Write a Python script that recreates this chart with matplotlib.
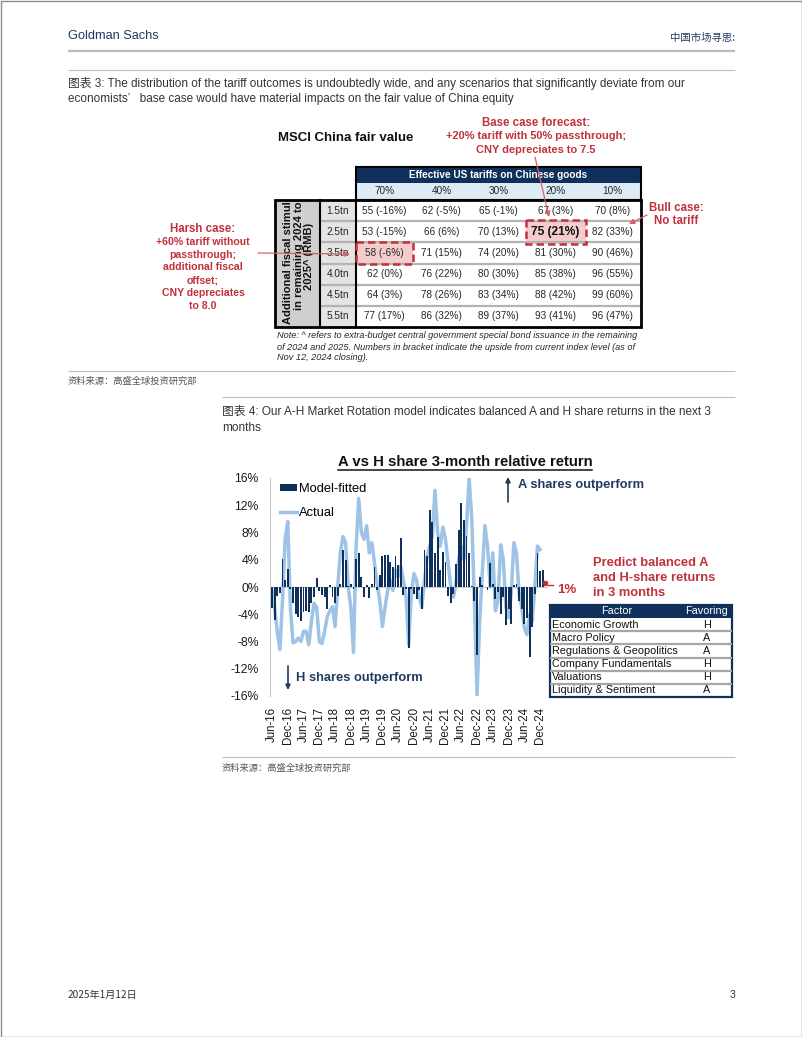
import numpy as np
import matplotlib
matplotlib.use('Agg')
import matplotlib.pyplot as plt
from matplotlib.patches import Rectangle
from matplotlib.transforms import Bbox

# =========================
# fonts
# =========================
plt.rcParams['font.family'] = ['Liberation Sans', 'Noto Sans CJK SC', 'DejaVu Sans']
CJK = ['Noto Sans CJK SC', 'DejaVu Sans']
CAP_FS = 8.45

# =========================
# data: 图表 3 (MSCI China fair value)
# =========================
tariff_cols = ['70%', '40%', '30%', '20%', '10%']
stimulus_rows = ['1.5tn', '2.5tn', '3.5tn', '4.0tn', '4.5tn', '5.5tn']
fair_value = [[55, 62, 65, 67, 70],
              [53, 66, 70, 75, 82],
              [58, 71, 74, 81, 90],
              [62, 76, 80, 85, 96],
              [64, 78, 83, 88, 99],
              [77, 86, 89, 93, 96]]
upside = [[-16, -5, -1, 3, 8],
          [-15, 6, 13, 21, 33],
          [-6, 15, 20, 30, 46],
          [0, 22, 30, 38, 55],
          [3, 26, 34, 42, 60],
          [17, 32, 37, 41, 47]]
base_cell = (1, 3)
harsh_cell = (2, 0)

# =========================
# data: 图表 4 (A vs H, monthly from Jun-16)
# =========================
tick_labels = ['Jun-16', 'Dec-16', 'Jun-17', 'Dec-17', 'Jun-18', 'Dec-18',
               'Jun-19', 'Dec-19', 'Jun-20', 'Dec-20', 'Jun-21', 'Dec-21',
               'Jun-22', 'Dec-22', 'Jun-23', 'Dec-23', 'Jun-24', 'Dec-24']
model_fitted = [-3.1, -4.9, -1.3, -0.9, 4.1, 1.0, 2.7, -0.3, -2.4, -4.0,
                -4.4, -5.0, -3.7, -3.5, -3.7, -2.4, -1.4, 1.3, -0.6, -1.2,
                -1.5, -3.3, 0.3, -1.5, -2.4, -1.3, 0.5, 5.5, 4.0, 0.2,
                0.5, -0.3, 4.1, 5.0, 1.5, -1.5, 0.3, -1.6, 0.5, 3.0,
                -0.5, 1.8, 4.5, 4.7, 4.7, 3.7, 3.0, 4.5, 3.2, 7.2,
                -1.2, -0.3, -9.0, -0.3, -1.0, -1.7, -0.5, -3.3, 5.4, 4.5,
                11.3, 9.5, 5.0, 7.4, 2.5, 5.2, 3.7, -1.3, -2.4, -1.0,
                3.4, 8.4, 12.3, 9.8, 7.5, 5.0, 0.2, -2.0, -10.0, 1.5,
                0.3, 0.0, -0.5, 3.5, 0.5, -1.8, -0.8, -4.0, -1.5, -5.6,
                -3.2, -5.5, 0.3, 0.4, -2.0, -3.3, -5.4, -4.5, -10.3, -5.8,
                -1.0, 5.0, 2.3, 2.5]
actual = [-0.5, -3.0, -6.5, -9.2, -2.0, 7.0, 9.6, -3.0, -8.2, -8.0,
          -7.5, -8.0, -6.5, -6.5, -8.5, -5.0, -2.4, -3.0, -8.0, -8.3,
          -6.5, -4.4, -3.5, -2.9, -5.8, 0.0, 5.0, 7.4, 6.5, 0.0,
          -3.0, -9.6, 6.0, 13.0, 8.0, 7.0, 9.0, 5.0, 6.5, 3.5,
          0.5, -2.0, -5.8, -3.0, -0.5, 1.0, -0.5, 2.5, 1.5, 3.0,
          1.0, -1.5, -8.5, -1.0, 2.0, 1.0, -1.5, -3.0, 1.0, 4.5,
          6.0, 7.5, 14.2, 8.0, 6.0, 8.8, 7.0, 3.5, 0.0, -1.5,
          0.5, 4.0, 6.0, 4.0, 9.0, 16.0, 10.0, -2.0, -16.0, -5.0,
          2.0, 9.0, 6.0, 0.0, 5.0, -3.5, -2.0, 6.2, 4.0, -3.0,
          -4.5, -1.0, 6.5, 5.0, -1.0, -3.0, -6.0, -7.0, -4.0, -5.0,
          0.0, 6.0, 5.5]
latest_pred = 0.6
factors = ['Economic Growth', 'Macro Policy', 'Regulations & Geopolitics',
           'Company Fundamentals', 'Valuations', 'Liquidity & Sentiment']
favoring = ['H', 'A', 'A', 'H', 'H', 'A']

# =========================
# colours
# =========================
NAVY = '#10305c'
LBLUE = '#9dc3e6'
RED = '#c0313b'
GS_BLUE = '#1f3a60'
TXT = '#262626'

W, H = 802, 1037
fig = plt.figure(figsize=(W / 100, H / 100), dpi=100)
pg = fig.add_axes([0, 0, 1, 1])
pg.set_xlim(0, W)
pg.set_ylim(H, 0)
pg.axis('off')


def txt(x, y, s, size, color=TXT, ha='left', weight='normal', family=None, style='normal', **kw):
    return pg.text(x, y, s, fontsize=size, color=color, ha=ha, va='center',
                   fontweight=weight, family=family or plt.rcParams['font.family'],
                   fontstyle=style, **kw)


def hline(y, x0, x1, color='#bdbdbd', lw=0.8):
    pg.plot([x0, x1], [y, y], color=color, lw=lw, solid_capstyle='butt')


# =========================
# page frame / header
# =========================
pg.add_patch(Rectangle((0.5, 0.5), W - 1, H - 1, fill=False, ec='#8c8c8c', lw=1))
txt(68, 36, 'Goldman Sachs', 9.2, color=GS_BLUE)
txt(735, 38, '中国市场寻思:', 7.5, color=GS_BLUE, ha='right', family=CJK)
hline(51, 68, 735, lw=1.6)
hline(70, 68, 735)

txt(68, 83, '图表 3: The distribution of the tariff outcomes is undoubtedly wide, and any scenarios that significantly deviate from our',
    CAP_FS, color='#333333')
txt(68, 99, 'economists’   base case would have material impacts on the fair value of China equity',
    CAP_FS, color='#333333')

# =========================
# 图表 3 table
# =========================
x_rot0, x_stim0, x_val0, x_val1 = 275, 320, 356, 641
y_hdr0, y_hdr1, y_sub1, y_body1 = 167, 183, 200, 327
col_w = (x_val1 - x_val0) / len(tariff_cols)
row_h = (y_body1 - y_sub1) / len(stimulus_rows)

txt(346, 138, 'MSCI China fair value', 9.5, color='#111111', ha='center', weight='bold')

pg.add_patch(Rectangle((x_val0, y_hdr0), x_val1 - x_val0, y_hdr1 - y_hdr0, fc=NAVY, ec='none'))
pg.add_patch(Rectangle((x_val0, y_hdr1), x_val1 - x_val0, y_sub1 - y_hdr1, fc='#ddebf7', ec='none'))
txt((x_val0 + x_val1) / 2, (y_hdr0 + y_hdr1) / 2 + 0.5, 'Effective US tariffs on Chinese goods', 7.2,
    color='white', ha='center', weight='bold')
for j, c in enumerate(tariff_cols):
    txt(x_val0 + (j + 0.5) * col_w, (y_hdr1 + y_sub1) / 2, c, 7.2, ha='center')

pg.add_patch(Rectangle((x_rot0, y_sub1), x_stim0 - x_rot0, y_body1 - y_sub1, fc='#cfcfcf', ec='none'))
pg.add_patch(Rectangle((x_stim0, y_sub1), x_val0 - x_stim0, y_body1 - y_sub1, fc='#e4e4e4', ec='none'))

# highlighted cells
for (r, c), pad in ((harsh_cell, 0), (base_cell, 1.5)):
    pg.add_patch(Rectangle((x_val0 + c * col_w - pad, y_sub1 + r * row_h - pad), col_w + 2 * pad, row_h + 2 * pad,
                           fc='#f4cccc', ec='none', zorder=2))

for i in range(1, len(stimulus_rows)):
    hline(y_sub1 + i * row_h, x_stim0, x_val1, color='#b3b3b3', lw=1.6)

for i, s in enumerate(stimulus_rows):
    yc = y_sub1 + (i + 0.5) * row_h
    txt((x_stim0 + x_val0) / 2, yc, s, 7.2, ha='center')
    for j in range(len(tariff_cols)):
        label = f'{fair_value[i][j]} ({upside[i][j]}%)'
        if (i, j) == base_cell:
            txt(x_val0 + (j + 0.5) * col_w, yc, label, 8.6, ha='center', weight='bold', color='#111111', zorder=4)
        else:
            txt(x_val0 + (j + 0.5) * col_w, yc, label, 7.2, ha='center', zorder=4)

for (r, c), pad in ((harsh_cell, 0), (base_cell, 1.5)):
    pg.add_patch(Rectangle((x_val0 + c * col_w - pad, y_sub1 + r * row_h - pad), col_w + 2 * pad, row_h + 2 * pad,
                           fill=False, ec=RED, lw=1.8, ls=(0, (3, 1.6)), zorder=5))

# borders
pg.add_patch(Rectangle((x_val0, y_hdr0), x_val1 - x_val0, y_sub1 - y_hdr0, fill=False, ec='black', lw=1.5, zorder=3))
pg.add_patch(Rectangle((x_rot0, y_sub1), x_val1 - x_rot0, y_body1 - y_sub1, fill=False, ec='black', lw=2, zorder=3))
pg.plot([x_stim0, x_stim0], [y_sub1, y_body1], color='black', lw=1.5, zorder=3)
pg.plot([x_val0, x_val0], [y_sub1, y_body1], color='black', lw=1.5, zorder=3)

# rotated row header, clipped to its cell like the original (top of the first line is cut)
rt = txt((x_rot0 + x_stim0) / 2 + 1, 256,
         'Additional fiscal stimulus\nin remaining 2024 to\n2025^ (RMB)', 8.0,
         color='#111111', ha='center', weight='bold', rotation=90, linespacing=1.1)
rt.set_clip_box(Bbox.from_extents(x_rot0 + 1, H - y_body1 + 1, x_stim0 - 1, H - y_sub1 - 1))
rt.set_clip_on(True)

note = ['Note: ^ refers to extra-budget central government special bond issuance in the remaining',
        'of 2024 and 2025. Numbers in bracket indicate the upside from current index level (as of',
        'Nov 12, 2024 closing).']
for k, line in enumerate(note):
    txt(277, 336 + k * 11, line, 6.55, style='italic', color='#262626')

# annotations
for k, (line, fs) in enumerate([('Base case forecast:', 8.3),
                                 ('+20% tariff with 50% passthrough;', 7.9),
                                 ('CNY depreciates to 7.5', 7.9)]):
    txt(536, 123 + k * 13.3, line, fs, color=RED, ha='center', weight='bold')
for k, line in enumerate(['Bull case:', 'No tariff']):
    txt(676, 208 + k * 13, line, 8.3, color=RED, ha='center', weight='bold')
harsh = ['Harsh case:', '+60% tariff without', 'passthrough;', 'additional fiscal',
         'offset;', 'CNY depreciates', 'to 8.0']
for k, line in enumerate(harsh):
    txt(203, 229 + k * 12.8, line, 8.3 if k == 0 else 7.6, color=RED, ha='center', weight='bold')

arrow = dict(arrowstyle='-|>', color='#d9606a', lw=0.9, mutation_scale=8, shrinkA=0, shrinkB=0)
pg.annotate('', xy=(549, 217), xytext=(535, 157), arrowprops=arrow, zorder=6)
pg.annotate('', xy=(629, 224), xytext=(647, 215), arrowprops=arrow, zorder=6)
pg.annotate('', xy=(350, 254), xytext=(258, 253), arrowprops=arrow, zorder=6)

hline(371, 68, 735)
txt(68, 381, '资料来源：高盛全球投资研究部', 6.7, color='#555555', family=CJK)

# =========================
# 图表 4
# =========================
hline(397, 222, 735)
txt(222, 412, '图表 4: Our A-H Market Rotation model indicates balanced A and H share returns in the next 3',
    CAP_FS, color='#333333')
txt(222, 428, 'months', CAP_FS, color='#333333')

ax = fig.add_axes([270 / W, 1 - 696 / H, 278 / W, 218 / H])
months = np.arange(len(model_fitted))
ax.plot(np.arange(len(actual)), actual, color=LBLUE, lw=2.5, label='Actual', zorder=2,
        solid_joinstyle='round')
ax.bar(months, model_fitted, width=0.72, color=NAVY, label='Model-fitted', zorder=3)
ax.axhline(0, color='#c8c8c8', lw=0.8, zorder=1)
ax.plot([len(model_fitted)], [latest_pred], marker='o', ms=3, color=RED, zorder=4)
ax.set_xlim(-0.76, 105)
ax.set_ylim(-16, 16)
ax.set_yticks(np.arange(-16, 17, 4))
ax.set_yticklabels([f'{v}%' for v in np.arange(-16, 17, 4)], fontsize=8.8, color='#1a1a1a')
ax.set_xticks(np.arange(0, 6 * len(tick_labels), 6))
ax.set_xticklabels(tick_labels, rotation=90, fontsize=8.3, color='#1a1a1a')
ax.tick_params(axis='both', length=0)
ax.tick_params(axis='y', pad=8)
ax.tick_params(axis='x', pad=8)
for side in ('top', 'right', 'bottom'):
    ax.spines[side].set_visible(False)
ax.spines['left'].set_color('#c8c8c8')
ax.patch.set_alpha(0)

h, l = ax.get_legend_handles_labels()
ax.legend(h[::-1], l[::-1], loc='upper left', bbox_to_anchor=(0.035, 0.978), frameon=False,
          fontsize=9.3, handlelength=1.3, handleheight=0.5, handletextpad=0.2,
          labelspacing=0.98, borderpad=0, borderaxespad=0)

ttl = txt(465, 462, 'A vs H share 3-month relative return', 10.7, color='#111111', ha='center', weight='bold')

nav_arrow = dict(arrowstyle='-|>', color=GS_BLUE, lw=1.2, mutation_scale=7, shrinkA=0, shrinkB=0)
pg.annotate('', xy=(508, 477), xytext=(508, 502), arrowprops=nav_arrow)
txt(518, 485, 'A shares outperform', 9.3, color=GS_BLUE, weight='bold')
pg.annotate('', xy=(288, 690), xytext=(288, 666), arrowprops=nav_arrow)
txt(296, 678, 'H shares outperform', 9.3, color=GS_BLUE, weight='bold')

pg.plot([548, 553], [585, 585], color=RED, lw=1)
txt(557, 590, f'{round(latest_pred)}%', 9.5, color=RED, weight='bold')
for k, line in enumerate(['Predict balanced A', 'and H-share returns', 'in 3 months']):
    txt(593, 563 + k * 15, line, 9.3, color=RED, weight='bold')

# factor table
tx0, tx1, ty0, ty1, ty2 = 550, 732, 605, 618, 697
frow = (ty2 - ty1) / len(factors)
pg.add_patch(Rectangle((tx0, ty0), tx1 - tx0, ty1 - ty0, fc=NAVY, ec='none'))
txt(617, (ty0 + ty1) / 2, 'Factor', 7.8, color='white', ha='center')
txt(707, (ty0 + ty1) / 2, 'Favoring', 7.8, color='white', ha='center')
for i in range(1, len(factors)):
    hline(ty1 + i * frow, tx0, tx1, color='#a6a6a6', lw=1.6)
for i, (f, v) in enumerate(zip(factors, favoring)):
    yc = ty1 + (i + 0.5) * frow
    txt(552, yc, f, 7.8, color='#111111')
    txt(707, yc, v, 7.8, color='#111111', ha='center')
pg.add_patch(Rectangle((tx0, ty0), tx1 - tx0, ty2 - ty0, fill=False, ec=NAVY, lw=1.6))

hline(757, 222, 735)
txt(222, 768, '资料来源：高盛全球投资研究部', 6.7, color='#555555', family=CJK)

# footer
txt(68, 995, '2025年1月12日', 7.3, color='#333333', family=CJK)
txt(735, 995, '3', 7.5, color='#333333', ha='right')

# underline for chart title
fig.canvas.draw()
bb = ttl.get_window_extent()
pg.plot([bb.x0, bb.x1], [H - bb.y0 + 0.5, H - bb.y0 + 0.5], color='#111111', lw=1.1)

fig.savefig('out.png', dpi=100)
